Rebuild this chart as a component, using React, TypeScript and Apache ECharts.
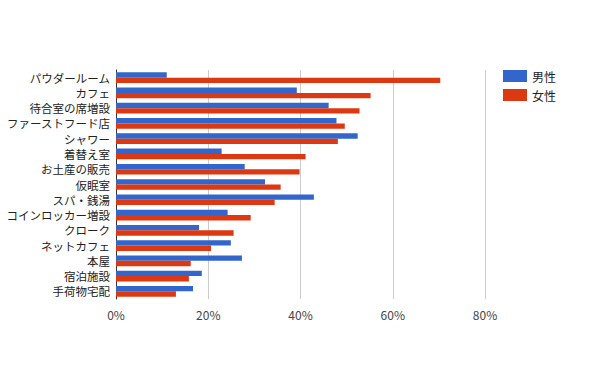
import React, { useEffect, useRef } from "react";
import * as echarts from "echarts";

const categories = [
  "パウダールーム",
  "カフェ",
  "待合室の席増設",
  "ファーストフード店",
  "シャワー",
  "着替え室",
  "お土産の販売",
  "仮眠室",
  "スパ・銭湯",
  "コインロッカー増設",
  "クローク",
  "ネットカフェ",
  "本屋",
  "宿泊施設",
  "手荷物宅配",
];
const male = [11.0, 39.2, 46.1, 47.8, 52.4, 22.9, 27.9, 32.3, 42.9, 24.2, 18.0, 24.9, 27.3, 18.6, 16.7];
const female = [70.3, 55.2, 52.8, 49.6, 48.1, 41.1, 39.8, 35.7, 34.4, 29.2, 25.5, 20.6, 16.2, 15.8, 13.0];
const xTicks = [0, 20, 40, 60, 80];

export default function App() {
  const ref = useRef<HTMLDivElement>(null);
  useEffect(() => {
    const chart = echarts.init(ref.current!, null, { renderer: "svg" });
    chart.setOption({
      animation: false,
      textStyle: { fontFamily: "'Noto Sans CJK JP', 'Noto Sans', sans-serif" },
      grid: { left: 116, right: 115, top: 70, bottom: 72, containLabel: false },
      legend: {
        orient: "vertical",
        left: 498,
        top: 65,
        itemWidth: 24,
        itemHeight: 12,
        itemGap: 7,
        icon: "rect",
        textStyle: { fontSize: 12, color: "#222" },
        data: ["男性", "女性"],
      },
      xAxis: {
        type: "value",
        min: xTicks[0],
        max: xTicks[xTicks.length - 1],
        interval: 20,
        axisLabel: { formatter: "{value}%", fontSize: 12, color: "#444", margin: 9 },
        axisLine: { show: false },
        axisTick: { show: false },
        splitLine: { show: true, lineStyle: { color: "#cccccc", width: 1 } },
      },
      yAxis: {
        type: "category",
        data: categories,
        inverse: true,
        axisLabel: { fontSize: 11.5, lineHeight: 12, color: "#222", margin: 6, interval: 0 },
        axisLine: { show: true, lineStyle: { color: "#333", width: 1 } },
        axisTick: { show: false },
        splitLine: { show: false },
      },
      series: [
        {
          name: "男性",
          type: "bar",
          data: male,
          itemStyle: { color: "#3366cc" },
          barGap: "0%",
          barCategoryGap: "30%",
        },
        {
          name: "女性",
          type: "bar",
          data: female,
          itemStyle: { color: "#dc3912" },
          barGap: "0%",
          barCategoryGap: "30%",
        },
      ],
    });
    return () => chart.dispose();
  }, []);
  return <div ref={ref} style={{ width: 600, height: 371, margin: -8 }} />;
}
